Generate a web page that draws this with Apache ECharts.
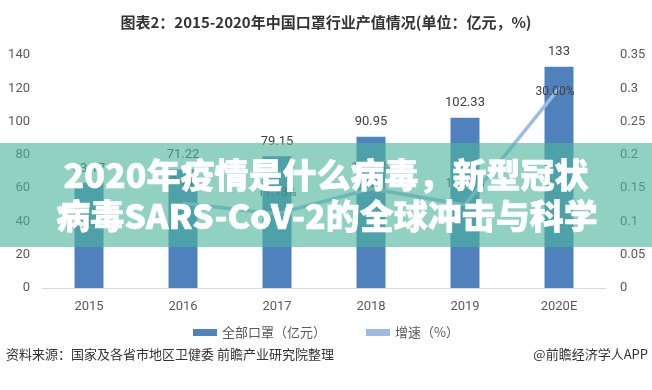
<!DOCTYPE html>
<html><head><meta charset="utf-8">
<script src="https://cdn.jsdelivr.net/npm/echarts@6/dist/echarts.min.js"></script>
<style>html,body{margin:0;padding:0;background:#fff}#c{width:652px;height:390px}</style>
</head><body><div id="c"></div>
<script>
const categories = ['2015','2016','2017','2018','2019','2020E'];
const maskValues = [63.17, 71.22, 79.15, 90.95, 102.33, 133];
const growthValues = [null, 0.1274, 0.1113, 0.1491, 0.1251, 0.30];
const leftTicks = [0, 140, 20];
const rightTicks = [0, 0.35, 0.05];

const chart = echarts.init(document.getElementById('c'));
const axisFont = {color:'#595959', fontSize:13, fontFamily:'Liberation Sans Narrow, Roboto, sans-serif'};
const lineData = growthValues.map((v,i)=> i===growthValues.length-1
  ? {value:v, label:{position:'inside', offset:[-4,4]}} : v);
chart.setOption({
  animation:false,
  title:{text:'图表2：2015-2020年中国口罩行业产值情况(单位：亿元，%)', left:'center', top:10,
    textStyle:{fontSize:15, fontWeight:'bold', color:'#333', fontFamily:'Noto Sans CJK SC'}},
  legend:{bottom:46, left:'center', itemWidth:24, itemHeight:7, itemGap:40,
    textStyle:{color:'#595959', fontSize:13, fontFamily:'Noto Sans CJK SC'},
    data:[{name:'全部口罩（亿元）', icon:'rect'},{name:'增速（%）', icon:'rect', itemStyle:{color:'#9dbbe3', opacity:1}}]},
  grid:{left:42, right:46, top:55, bottom:102},
  xAxis:{type:'category', data:categories, axisTick:{show:false},
    axisLine:{lineStyle:{color:'#d9d9d9'}}, axisLabel:Object.assign({margin:12}, axisFont)},
  yAxis:[
    {type:'value', min:leftTicks[0], max:leftTicks[1], interval:leftTicks[2], splitLine:{show:false},
      axisLabel:Object.assign({margin:12}, axisFont)},
    {type:'value', min:rightTicks[0], max:rightTicks[1], interval:rightTicks[2], splitLine:{show:false},
      axisLabel:Object.assign({margin:14, formatter:v=>String(+v.toFixed(2))}, axisFont)}
  ],
  series:[
    {name:'全部口罩（亿元）', type:'bar', data:maskValues, barWidth:29, itemStyle:{color:'#4f81bd'},
      label:{show:true, position:'top', distance:8, color:'#404040', fontSize:13, fontFamily:'Liberation Sans Narrow, Roboto, sans-serif'}},
    {name:'增速（%）', type:'line', yAxisIndex:1, data:lineData, symbol:'circle', symbolSize:2, showSymbol:true, connectNulls:false,
      lineStyle:{width:3.5, color:'#9dbbe3'}, itemStyle:{color:'#9dbbe3'},
      label:{show:true, position:'top', distance:14, color:'#404040', fontSize:12, fontFamily:'Liberation Sans Narrow, Roboto, sans-serif',
        formatter:p=>(p.value*100).toFixed(2)+'%'}}
  ],
  graphic:[
    {type:'rect', left:0, top:143, shape:{width:652, height:104}, style:{fill:'rgba(76,181,156,0.62)'}, z:100},
    {type:'text', x:326, y:175, z:101, style:{text:'2020年疫情是什么病毒，新型冠状', fill:'#fff',
      stroke:'#fff', lineWidth:0.6, align:'center', verticalAlign:'middle',
      font:'900 34px "Noto Sans CJK SC"'}},
    {type:'text', x:327, y:216, z:101, style:{text:'病毒SARS-CoV-2的全球冲击与科学', fill:'#fff',
      stroke:'#fff', lineWidth:0.6, align:'center', verticalAlign:'middle',
      font:'900 34px "Noto Sans CJK SC"'}},
    {type:'text', left:6, top:348, style:{text:'资料来源：国家及各省市地区卫健委 前瞻产业研究院整理', fill:'#333', font:'13px "Noto Sans CJK SC"'}},
    {type:'text', right:4, top:348, style:{text:'@前瞻经济学人APP', fill:'#333', font:'13px "Noto Sans CJK SC"'}}
  ]
});
</script></body></html>
